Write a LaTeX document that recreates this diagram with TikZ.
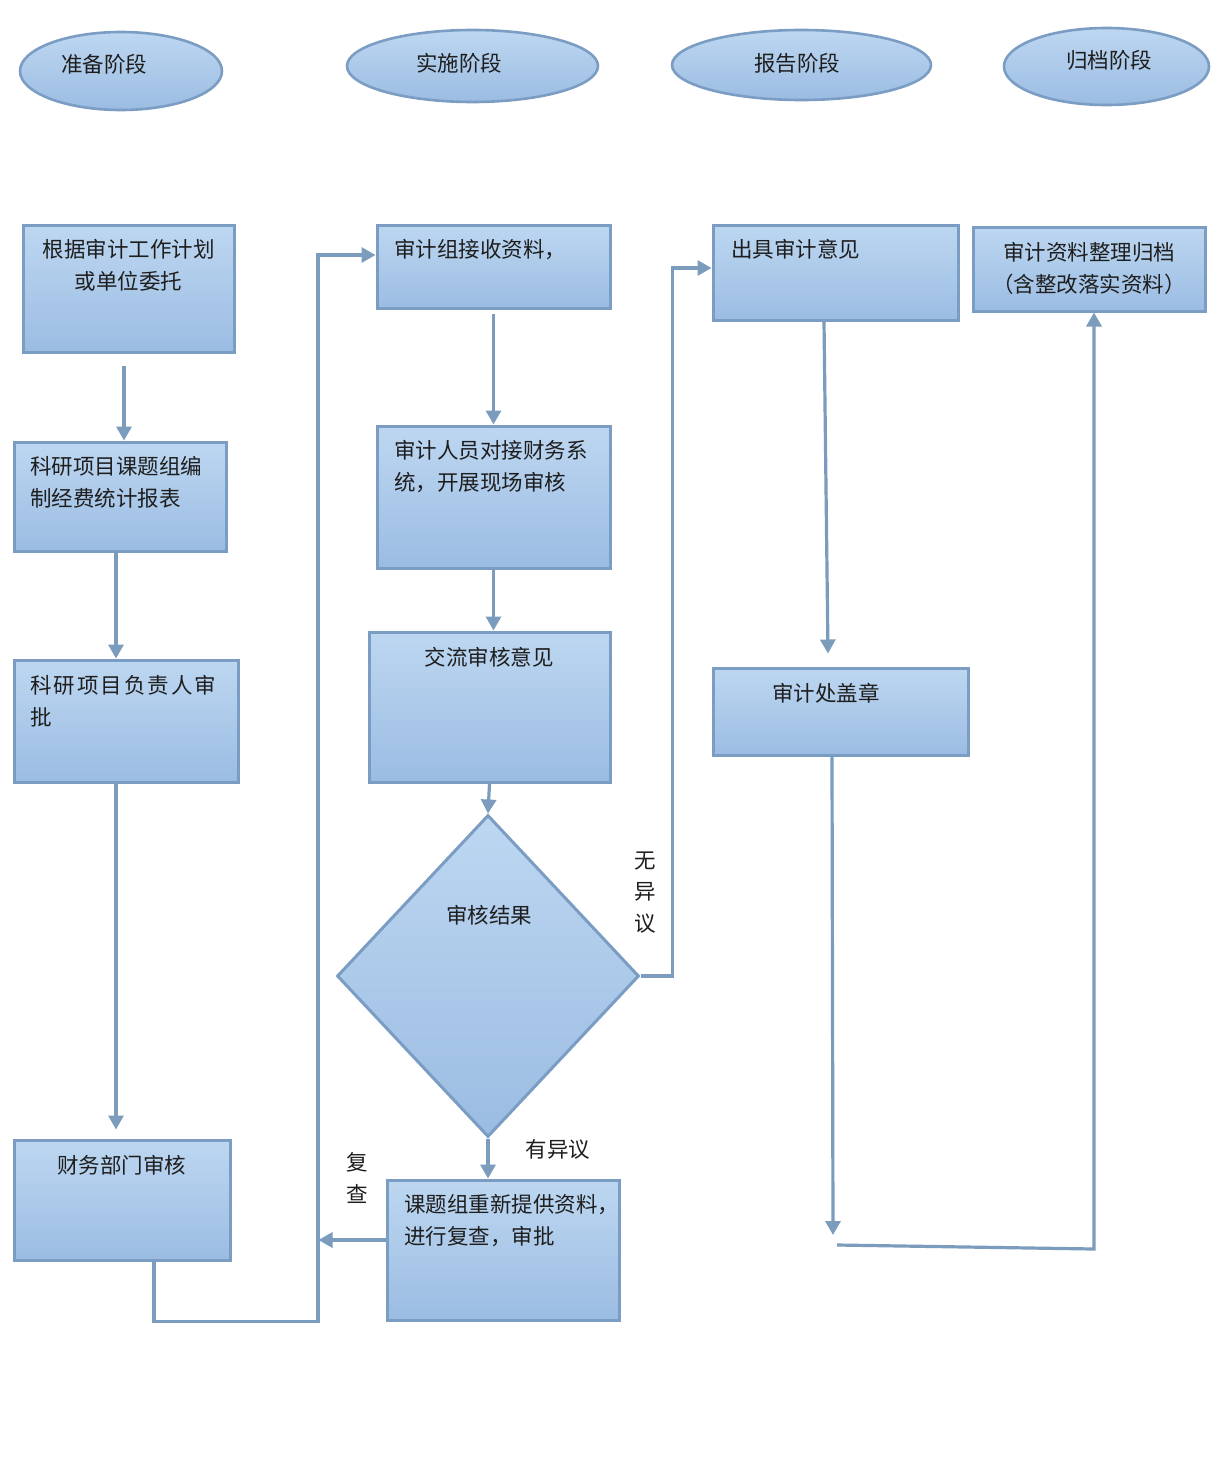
\documentclass[tikz,border=0pt]{standalone}
\usepackage{fontspec}
\newfontfamily\cjk{Noto Sans CJK SC}
\usetikzlibrary{arrows.meta,shapes.geometric,calc}
\definecolor{bxtop}{HTML}{BDD7F1}
\definecolor{bxbot}{HTML}{9BBCE2}
\definecolor{bxline}{HTML}{7B9DC3}
\definecolor{conn}{HTML}{7B9CBC}
\definecolor{txt}{HTML}{1E1E1E}
\begin{document}
\begin{tikzpicture}[x=1pt,y=-1pt,
  stepbox/.style={rectangle, draw=bxline, line width=3pt, top color=bxtop, bottom color=bxbot, inner sep=0pt},
  phase/.style={ellipse, draw=bxline, line width=2.6pt, top color=bxtop, bottom color=bxbot, inner sep=0pt},
  decide/.style={diamond, draw=bxline, line width=3pt, top color=bxtop, bottom color=bxbot, inner sep=0pt},
  lbl/.style={font=\cjk\fontsize{21.5}{31.5}\selectfont, text=txt, inner sep=0pt},
  arr/.style={draw=conn, line width=3.2pt, -{Triangle[width=15pt,length=14pt]}},
  ln/.style={draw=conn, line width=3.2pt}]
\useasboundingbox (0,0) rectangle (1212,1483);
\fill[white] (0,0) rectangle (1212,1483);

% phase ellipses
\node[phase, minimum width=202pt, minimum height=78pt] (p1) at (121,71) {};
\node[phase, minimum width=251pt, minimum height=72pt] (p2) at (472.5,66) {};
\node[phase, minimum width=259pt, minimum height=70pt] (p3) at (801.5,65) {};
\node[phase, minimum width=205pt, minimum height=77pt] (p4) at (1106.5,66.5) {};
\node[lbl] (p1t) at (104,64) {准备阶段};
\node[lbl] (p2t) at (459,63) {实施阶段};
\node[lbl] (p3t) at (797,63) {报告阶段};
\node[lbl] (p4t) at (1109,60) {归档阶段};

% boxes
\node[stepbox, minimum width=211pt, minimum height=127pt] (A) at (128.5,288.5) {};
\node[stepbox, minimum width=212pt, minimum height=109pt] (B) at (120,496.5) {};
\node[stepbox, minimum width=224pt, minimum height=122pt] (C) at (126,721) {};
\node[stepbox, minimum width=216pt, minimum height=120pt] (D) at (122,1200) {};
\node[stepbox, minimum width=233pt, minimum height=83pt] (E) at (493.5,266.5) {};
\node[stepbox, minimum width=233pt, minimum height=142pt] (F) at (493.5,497) {};
\node[stepbox, minimum width=241pt, minimum height=150pt] (G) at (489.5,707) {};
\node[decide, minimum width=302pt, minimum height=322pt] (dia) at (488,976) {};
\node[stepbox, minimum width=232pt, minimum height=140pt] (H) at (503,1250) {};
\node[stepbox, minimum width=245pt, minimum height=95pt] (I) at (835.5,272.5) {};
\node[stepbox, minimum width=255pt, minimum height=87pt] (J) at (840.5,711.5) {};
\node[stepbox, minimum width=232pt, minimum height=84pt] (K) at (1089,269) {};

% box texts
\node[lbl, anchor=north, align=center] (At) at (128.5,239.5) {根据审计工作计划\\或单位委托};
\node[lbl, anchor=north west, align=left] (Bt) at (30,456.5) {科研项目课题组编\\制经费统计报表};
\node[lbl, anchor=north west, align=left] (Ct) at (30,675.5) {科\hspace{2pt}研\hspace{2pt}项\hspace{2pt}目\hspace{2pt}负\hspace{2pt}责\hspace{2pt}人\hspace{2pt}审\\批};
\node[lbl] (Dt) at (121.5,1165) {财务部门审核};
\node[lbl, anchor=north west] (Et) at (394,239.5) {审计组接收资料，};
\node[lbl, anchor=north west, align=left] (Ft) at (394,440.5) {审计人员对接财务系\\统，开展现场审核};
\node[lbl] (Gt) at (489,657) {交流审核意见};
\node[lbl] (diat) at (489,915) {审核结果};
\node[lbl, anchor=north west, align=left] (Ht) at (404,1194.5) {课题组重新提供资料，\\进行复查，审批};
\node[lbl, anchor=north west] (It) at (731,239.5) {出具审计意见};
\node[lbl] (Jt) at (826,693) {审计处盖章};
\node[lbl, anchor=north, align=center] (Kt) at (1089,242.5) {审计资料整理归档\\（含整改落实资料）};

% connector labels
\node[lbl, align=center] (fucha) at (357,1178) {复\\查};
\node[lbl, align=center] (wuyiyi) at (645,892.5) {无\\异\\议};
\node[lbl] (youyiyi) at (558,1149) {有异议};

% connectors
\draw[arr] ([xshift=-4.5pt,yshift=-12pt]A.south) -- ([xshift=-4.5pt]A.south |- B.north);
\draw[arr] ([xshift=-4pt]B.south) -- ([xshift=-4pt]B.south |- C.north);
\draw[arr] ([xshift=-10pt]C.south) -- ([xshift=-10pt,yshift=9pt]C.south |- D.north);
\draw[arr] ([xshift=32pt]D.south) -- ++(0,60) -- ++(164,0) |- ([yshift=11.5pt]E.west);
\draw[arr] ([yshift=10pt]H.west) -- ++(-67,0);
\draw[arr] ([yshift=-4pt]E.south) -- (E.south |- F.north);
\draw[arr] (F.south) -- (F.south |- G.north);
\draw[arr] (G.south) -- (dia.north);
\draw[arr] (dia.south) -- (dia.south |- H.north);
\draw[arr] (dia.east) -- ++(32,0) |- ([yshift=4.5pt]I.west);
\draw[arr] ([xshift=-11.5pt]I.south) -- ([xshift=-12.5pt,yshift=13pt]J.north);
\coordinate (jend) at (833,1235);
\draw[arr] ([xshift=-8.5pt]J.south) -- (jend);
\coordinate (kstart) at (837,1245);
\draw[arr] (kstart) -- ++(257,4) -- ([xshift=5pt]K.south);
\end{tikzpicture}
\end{document}
